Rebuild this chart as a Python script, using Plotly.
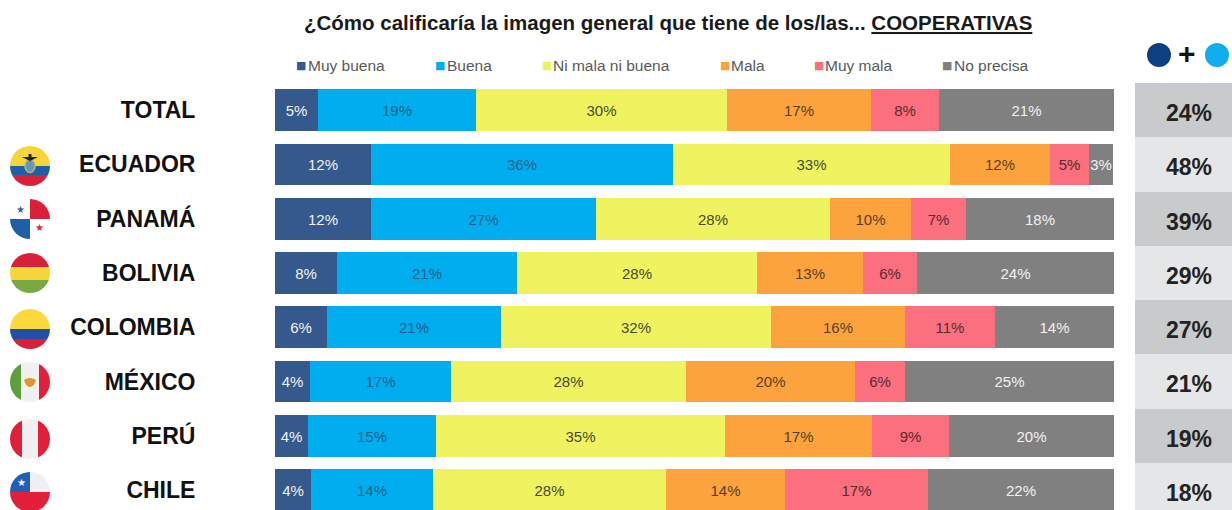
import base64
import plotly.graph_objects as go

W, H = 1232, 510
FONT = "Liberation Sans, Arial, sans-serif"

countries = ["TOTAL", "ECUADOR", "PANAMÁ", "BOLIVIA", "COLOMBIA", "MÉXICO", "PERÚ", "CHILE"]

muy_buena = [5.1, 11.4, 11.4, 7.4, 6.2, 4.2, 3.9, 4.3]
buena = [18.8, 36.0, 26.9, 21.5, 20.7, 16.8, 15.3, 14.5]
ni_mala = [30.0, 33.1, 27.8, 28.6, 32.2, 28.0, 34.4, 27.8]
mala = [17.1, 11.9, 9.7, 12.6, 16.0, 20.1, 17.5, 14.2]
muy_mala = [8.1, 4.6, 6.6, 6.4, 10.7, 6.0, 9.2, 17.0]
no_precisa = [20.9, 2.9, 17.6, 23.5, 14.2, 24.9, 19.7, 22.2]

lbl_muy_buena = ["5%", "12%", "12%", "8%", "6%", "4%", "4%", "4%"]
lbl_buena = ["19%", "36%", "27%", "21%", "21%", "17%", "15%", "14%"]
lbl_ni_mala = ["30%", "33%", "28%", "28%", "32%", "28%", "35%", "28%"]
lbl_mala = ["17%", "12%", "10%", "13%", "16%", "20%", "17%", "14%"]
lbl_muy_mala = ["8%", "5%", "7%", "6%", "11%", "6%", "9%", "17%"]
lbl_no_precisa = ["21%", "3%", "18%", "24%", "14%", "25%", "20%", "22%"]

top_two = ["24%", "48%", "39%", "29%", "27%", "21%", "19%", "18%"]

series_names = ["Muy buena", "Buena", "Ni mala ni buena", "Mala", "Muy mala", "No precisa"]
series_colors = ["#35598c", "#00aeef", "#eef35f", "#fca33d", "#fb6f7f", "#808080"]
text_colors = ["#f2f2f2", "#1f5f8a", "#4a4a2a", "#5a4020", "#5a2a30", "#f2f2f2"]
legend_swatch_x = [301, 440, 547, 725, 819, 947]
legend_text_x = [306, 445, 551, 729, 823, 952]


def px(x):
    return x / W


def py(y):
    return 1 - y / H


fig = go.Figure()
all_vals = [muy_buena, buena, ni_mala, mala, muy_mala, no_precisa]
all_lbls = [lbl_muy_buena, lbl_buena, lbl_ni_mala, lbl_mala, lbl_muy_mala, lbl_no_precisa]
for name, color, tc, vals, lbls in zip(series_names, series_colors, text_colors, all_vals, all_lbls):
    fig.add_trace(go.Bar(
        y=countries, x=vals, name=name, orientation="h", width=0.77,
        marker=dict(color=color, line=dict(width=0)),
        text=lbls, textposition="inside", insidetextanchor="middle",
        textangle=0, constraintext="none",
        textfont=dict(family=FONT, size=15, color=tc),
        xaxis="x", yaxis="y", showlegend=False,
    ))

panel_colors = ["#c9cacc", "#e5e6e8"] * 4
fig.add_trace(go.Bar(
    y=countries, x=[1] * len(countries), orientation="h", width=1,
    marker=dict(color=panel_colors, line=dict(width=0)),
    xaxis="x2", yaxis="y", showlegend=False,
))


def flag(body):
    svg = ('<svg xmlns="http://www.w3.org/2000/svg" width="80" height="80" viewBox="0 0 40 40">'
           '<defs><clipPath id="c"><circle cx="20" cy="20" r="20"/></clipPath></defs>'
           f'<g clip-path="url(#c)">{body}</g></svg>')
    return "data:image/svg+xml;base64," + base64.b64encode(svg.encode()).decode()


def rect(x, y, w, h, c):
    return f'<rect x="{x}" y="{y}" width="{w}" height="{h}" fill="{c}"/>'


def star(cx, cy, r, c):
    return (f'<text x="{cx}" y="{cy + r * 0.75}" font-size="{r * 2.4}" text-anchor="middle" '
            f'fill="{c}">★</text>')


flags = [
    (166, rect(0, 0, 40, 20, "#f6d53b") + rect(0, 20, 40, 9, "#1f5fa8") + rect(0, 29, 40, 11, "#d8203a")
     + '<ellipse cx="20" cy="20" rx="5" ry="6.5" fill="#5f95c9" stroke="#c9b54a" stroke-width="1.5"/>'
     + '<path d="M12 11 L28 11 L20 15 Z" fill="#222"/>' + rect(18.5, 8, 3, 5, "#222")),
    (219, rect(0, 0, 40, 40, "#ffffff") + rect(20, 0, 20, 20, "#d8203a") + rect(0, 20, 20, 20, "#1f5fa8")
     + star(10, 11, 4, "#2f5f9f") + star(29, 29, 4, "#d8203a")),
    (273, rect(0, 0, 40, 14, "#d8203a") + rect(0, 14, 40, 13, "#f6d53b") + rect(0, 27, 40, 13, "#79a844")),
    (329, rect(0, 0, 40, 20, "#fbd83c") + rect(0, 20, 40, 10, "#1f4fa8") + rect(0, 30, 40, 10, "#d8203a")),
    (382, rect(0, 0, 40, 40, "#f0f0f0") + rect(0, 0, 11, 40, "#5d9e3d") + rect(29, 0, 11, 40, "#e0203a")
     + '<path d="M14 18 Q20 14 26 18 Q24 25 20 25 Q16 25 14 18 Z" fill="#d99a2b"/>'),
    (439, rect(0, 0, 40, 40, "#f0f0f0") + rect(0, 0, 12, 40, "#e0203a") + rect(28, 0, 12, 40, "#e0203a")),
    (492, rect(0, 0, 40, 20, "#f0f0f0") + rect(0, 0, 20, 20, "#1f5fb8") + rect(0, 20, 40, 20, "#e0203a")
     + star(11, 11, 4, "#ffffff")),
]

images = [dict(source=flag(b), xref="paper", yref="paper", x=px(30), y=py(yc),
               sizex=40 / W, sizey=40 / H, xanchor="center", yanchor="middle",
               sizing="stretch", layer="above") for yc, b in flags]

annotations = [dict(
    x=px(668), y=py(23), xref="paper", yref="paper", showarrow=False,
    xanchor="center", yanchor="middle",
    text="<b>¿Cómo calificaría la imagen general que tiene de los/las... <u>COOPERATIVAS</u></b>",
    font=dict(family=FONT, size=20.5, color="#1a1a1a"),
)]
for name, color, sx, tx in zip(series_names, series_colors, legend_swatch_x, legend_text_x):
    annotations.append(dict(x=px(sx), y=py(65), xref="paper", yref="paper", showarrow=False,
                            xanchor="center", yanchor="middle", text="■",
                            font=dict(family="DejaVu Sans", size=11, color=color)))
    annotations.append(dict(x=px(tx), y=py(65), xref="paper", yref="paper", showarrow=False,
                            xanchor="left", yanchor="middle", text=name,
                            font=dict(family=FONT, size=15.5, color="#595959")))
annotations.append(dict(x=px(1187), y=py(54), xref="paper", yref="paper", showarrow=False,
                        xanchor="center", yanchor="middle", text="<b>+</b>",
                        font=dict(family=FONT, size=30, color="#111111")))
for country, value in zip(countries, top_two):
    annotations.append(dict(x=0.5, y=country, xref="x2", yref="y", showarrow=False,
                            xanchor="center", yanchor="middle", xshift=5, yshift=-3,
                            text=f"<b>{value}</b>",
                            font=dict(family=FONT, size=23, color="#222222")))

shapes = []
for cx, c in [(1159, "#0f3f83"), (1217, "#10aeee")]:
    shapes.append(dict(type="circle", xref="paper", yref="paper", x0=px(cx - 12), x1=px(cx + 12),
                       y0=py(67), y1=py(43), fillcolor=c, line=dict(width=0)))

fig.update_layout(
    width=W, height=H, autosize=False,
    margin=dict(l=0, r=0, t=0, b=0),
    paper_bgcolor="white", plot_bgcolor="white",
    barmode="stack", bargap=0,
    xaxis=dict(domain=[px(275), px(1114)], range=[0, 100], visible=False, fixedrange=True),
    xaxis2=dict(domain=[px(1135), 1], range=[0, 1], visible=False, fixedrange=True, anchor="y"),
    yaxis=dict(domain=[0, 427 / H], range=[7.368, -0.5], type="category",
               categoryorder="array", categoryarray=countries,
               ticks="outside", ticklen=74, tickcolor="rgba(0,0,0,0)", showline=False,
               showgrid=False, zeroline=False, fixedrange=True,
               tickfont=dict(family=FONT, size=23, color="#111111"),
               tickprefix="<b>", ticksuffix="</b>"),
    images=images, annotations=annotations, shapes=shapes,
    showlegend=False,
)
fig.write_html("out.html", post_script="document.body.style.margin='0';",
               config=dict(displayModeBar=False))
